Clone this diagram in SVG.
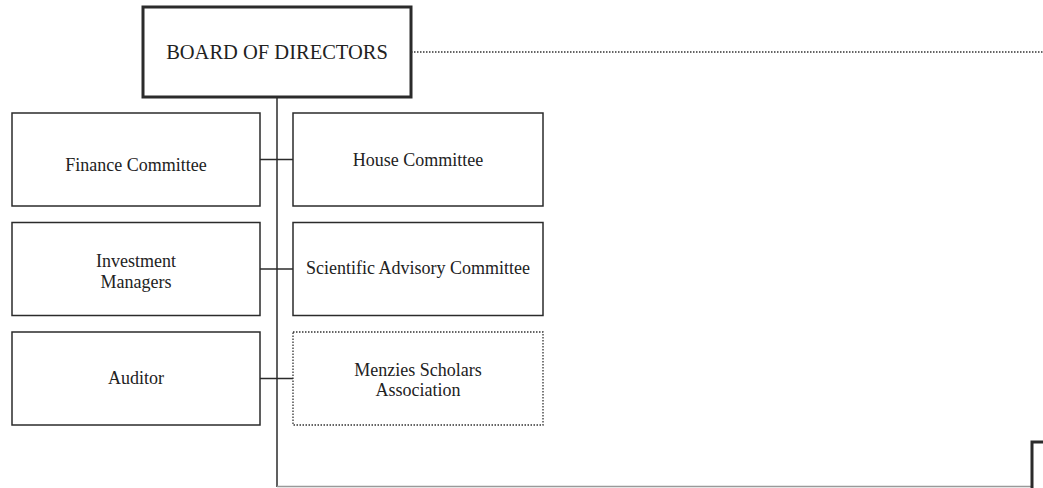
<svg xmlns="http://www.w3.org/2000/svg" width="1043" height="488" viewBox="0 0 1043 488">
<style>
.box{fill:#fff;stroke:#2b2b2b;stroke-width:1.5}
.board{fill:#fff;stroke:#2b2b2b;stroke-width:3}
.dot{fill:#fff;stroke:#333;stroke-width:1.3;stroke-dasharray:1.5 1.5}
.ln{stroke:#2b2b2b;stroke-width:1.5;fill:none}
.t{font-family:"Liberation Serif","Times New Roman",serif;font-size:18px;fill:#222;text-anchor:middle}
.tb{font-family:"Liberation Serif","Times New Roman",serif;font-size:20.5px;fill:#222;text-anchor:middle}
</style>
<rect width="1043" height="488" fill="#fff"/>
<g id="connectors">
<line class="ln" x1="277" y1="97" x2="277" y2="487"/>
<line x1="277" y1="486.5" x2="1032" y2="486.5" stroke="#999" stroke-width="1.5"/>
<line x1="411" y1="52" x2="1043" y2="52" stroke="#333" stroke-width="1.3" stroke-dasharray="1.5 1.5"/>
<line class="ln" x1="260" y1="159.5" x2="293" y2="159.5"/>
<line class="ln" x1="260" y1="269" x2="293" y2="269"/>
<line class="ln" x1="260" y1="378.5" x2="293" y2="378.5"/>
</g>
<g id="board"><rect class="board" x="143" y="7" width="268" height="90"/><text class="tb" x="277" y="59">BOARD OF DIRECTORS</text></g>
<g id="finance"><rect class="box" x="12" y="113" width="248" height="93"/><text class="t" x="136" y="171">Finance Committee</text></g>
<g id="house"><rect class="box" x="293" y="113" width="250" height="93"/><text class="t" x="418" y="166">House Committee</text></g>
<g id="investment"><rect class="box" x="12" y="222.5" width="248" height="93"/><text class="t" x="136" y="267">Investment</text><text class="t" x="136" y="288">Managers</text></g>
<g id="scientific"><rect class="box" x="293" y="222.5" width="250" height="93"/><text class="t" x="418" y="274">Scientific Advisory Committee</text></g>
<g id="auditor"><rect class="box" x="12" y="332" width="248" height="93"/><text class="t" x="136" y="384">Auditor</text></g>
<g id="menzies"><rect class="dot" x="293" y="332" width="250" height="93"/><text class="t" x="418" y="376">Menzies Scholars</text><text class="t" x="418" y="396">Association</text></g>
<g id="partial"><path d="M1032 488 V442 H1045" fill="none" stroke="#2b2b2b" stroke-width="3"/></g>
</svg>
